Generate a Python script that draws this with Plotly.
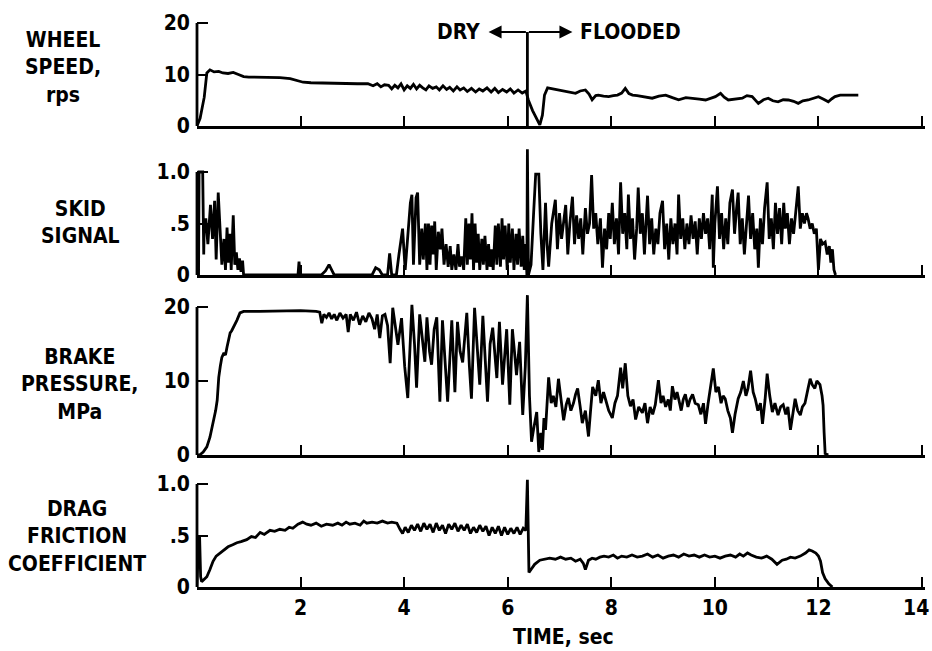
import plotly.graph_objects as go

# ---------------- data ----------------
t_switch = 6.38  # DRY -> FLOODED transition, sec

wheel_t = [
    0.00, 0.06, 0.14, 0.19, 0.25, 0.33, 0.42, 0.50, 0.60, 0.70,
    0.80, 0.90, 1.00, 1.20, 1.40, 1.60, 1.80, 1.95, 2.05, 2.20,
    2.50, 2.80, 3.10, 3.30, 3.40, 3.48, 3.55, 3.62, 3.70, 3.76,
    3.82, 3.88, 3.94, 4.00, 4.06, 4.12, 4.18, 4.24, 4.30, 4.36,
    4.42, 4.48, 4.55, 4.62, 4.68, 4.75, 4.82, 4.88, 4.95, 5.02,
    5.08, 5.15, 5.22, 5.30, 5.38, 5.45, 5.52, 5.60, 5.68, 5.75,
    5.82, 5.90, 5.98, 6.05, 6.12, 6.20, 6.28, 6.35, 6.40, 6.48,
    6.56, 6.62, 6.67, 6.71, 6.77, 6.87, 6.92, 7.02, 7.12, 7.22,
    7.31, 7.40, 7.50, 7.57, 7.63, 7.70, 7.75, 7.85, 7.95, 8.04,
    8.12, 8.20, 8.27, 8.34, 8.41, 8.50, 8.60, 8.70, 8.79, 8.92,
    9.05, 9.18, 9.30, 9.44, 9.57, 9.70, 9.82, 9.92, 10.01, 10.11,
    10.18, 10.26, 10.40, 10.53, 10.62, 10.72, 10.84, 10.94, 11.03, 11.12,
    11.22, 11.32, 11.42, 11.52, 11.61, 11.70, 11.80, 11.90, 12.00, 12.10,
    12.19, 12.26, 12.32, 12.42, 12.52, 12.65, 12.77]
wheel_speed = [
    0.0, 1.5, 5.6, 10.3, 10.9, 10.5, 10.6, 10.3, 10.2, 10.4,
    10.0, 9.6, 9.5, 9.5, 9.4, 9.4, 9.2, 8.8, 8.5, 8.4,
    8.3, 8.3, 8.2, 8.2, 7.8, 8.2, 7.6, 8.0, 7.9, 7.2,
    7.9, 7.4, 8.2, 7.0, 7.8, 7.3, 8.1, 7.2, 7.9, 7.4,
    7.0, 7.8, 7.3, 7.6, 7.0, 7.8, 7.1, 7.5, 6.8, 7.6,
    7.0, 7.4, 6.7, 7.3, 6.6, 7.2, 6.8, 7.4, 6.6, 7.3,
    6.5, 7.1, 6.6, 7.2, 6.4, 7.0, 6.4, 6.8, 5.0, 3.0,
    1.2, 0.2, 2.1, 6.0, 7.4, 7.2, 7.0, 6.8, 6.7, 6.5,
    6.35, 6.8, 7.0, 6.2, 5.1, 5.9, 6.0, 5.8, 5.7, 5.9,
    6.0, 6.4, 7.3, 6.3, 6.0, 5.9, 5.7, 5.6, 5.4, 5.8,
    6.0, 5.5, 5.1, 5.5, 5.4, 5.2, 5.05, 5.4, 5.7, 6.35,
    5.6, 5.05, 5.3, 5.4, 5.9, 5.7, 4.4, 5.1, 5.4, 4.9,
    4.7, 5.1, 5.05, 4.8, 4.4, 4.9, 5.05, 5.4, 5.7, 5.2,
    4.7, 5.3, 5.7, 6.0, 6.0, 6.1, 6.0]

skid_t = [
    0.00, 0.03, 0.04, 0.11, 0.13, 0.14, 0.17, 0.21, 0.26, 0.30,
    0.34, 0.37, 0.41, 0.45, 0.48, 0.52, 0.55, 0.58, 0.61, 0.64,
    0.66, 0.70, 0.73, 0.76, 0.79, 0.82, 0.85, 0.88, 0.90, 1.95,
    1.97, 1.99, 2.40, 2.48, 2.55, 2.60, 2.65, 3.38, 3.45, 3.52,
    3.58, 3.68, 3.72, 3.76, 3.85, 3.90, 3.97, 4.02, 4.08, 4.12,
    4.15, 4.18, 4.23, 4.26, 4.30, 4.34, 4.37, 4.41, 4.44, 4.47,
    4.50, 4.53, 4.56, 4.59, 4.62, 4.66, 4.70, 4.73, 4.77, 4.81,
    4.85, 4.89, 4.92, 4.96, 5.00, 5.04, 5.07, 5.11, 5.15, 5.19,
    5.22, 5.25, 5.28, 5.31, 5.34, 5.37, 5.40, 5.43, 5.46, 5.50,
    5.53, 5.56, 5.60, 5.63, 5.66, 5.69, 5.72, 5.76, 5.79, 5.82,
    5.86, 5.89, 5.92, 5.95, 5.99, 6.02, 6.05, 6.09, 6.12, 6.16,
    6.19, 6.22, 6.26, 6.29, 6.32, 6.35, 6.37, 6.38, 6.40, 6.45,
    6.50, 6.54, 6.60, 6.64, 6.68, 6.73, 6.76, 6.79, 6.85, 6.92,
    6.96, 7.00, 7.04, 7.08, 7.12, 7.16, 7.20, 7.25, 7.29, 7.33,
    7.37, 7.41, 7.45, 7.50, 7.54, 7.58, 7.62, 7.66, 7.70, 7.74,
    7.79, 7.83, 7.87, 7.91, 7.95, 7.98, 8.02, 8.06, 8.10, 8.14,
    8.18, 8.22, 8.26, 8.30, 8.33, 8.37, 8.41, 8.45, 8.49, 8.52,
    8.56, 8.60, 8.64, 8.67, 8.70, 8.74, 8.78, 8.82, 8.86, 8.90,
    8.94, 8.99, 9.03, 9.07, 9.11, 9.15, 9.19, 9.23, 9.27, 9.30,
    9.34, 9.38, 9.42, 9.46, 9.50, 9.54, 9.58, 9.62, 9.66, 9.70,
    9.74, 9.78, 9.82, 9.86, 9.90, 9.95, 9.97, 10.00, 10.05, 10.09,
    10.13, 10.17, 10.21, 10.25, 10.29, 10.34, 10.38, 10.42, 10.45, 10.49,
    10.53, 10.57, 10.61, 10.65, 10.69, 10.73, 10.77, 10.81, 10.84, 10.88,
    10.92, 10.96, 11.01, 11.05, 11.09, 11.13, 11.17, 11.21, 11.25, 11.29,
    11.33, 11.36, 11.40, 11.44, 11.48, 11.52, 11.56, 11.61, 11.65, 11.69,
    11.73, 11.77, 11.80, 11.84, 11.88, 11.92, 11.96, 12.00, 12.04, 12.08,
    12.13, 12.17, 12.21, 12.24, 12.27, 12.30, 12.33]
skid_signal = [
    0.00, 0.00, 1.00, 1.00, 0.20, 0.50, 0.55, 0.30, 0.68, 0.35,
    0.72, 0.15, 0.80, 0.40, 0.10, 0.35, 0.05, 0.46, 0.12, 0.40,
    0.05, 0.58, 0.10, 0.22, 0.05, 0.16, 0.03, 0.14, 0.00, 0.00,
    0.13, 0.00, 0.00, 0.04, 0.10, 0.05, 0.00, 0.00, 0.07, 0.05,
    0.00, 0.00, 0.21, 0.00, 0.00, 0.20, 0.45, 0.05, 0.40, 0.70,
    0.78, 0.10, 0.75, 0.80, 0.10, 0.45, 0.15, 0.50, 0.05, 0.50,
    0.10, 0.48, 0.20, 0.52, 0.05, 0.42, 0.25, 0.45, 0.10, 0.30,
    0.08, 0.28, 0.05, 0.20, 0.05, 0.30, 0.08, 0.18, 0.05, 0.55,
    0.10, 0.50, 0.15, 0.60, 0.05, 0.50, 0.12, 0.40, 0.05, 0.35,
    0.10, 0.38, 0.05, 0.30, 0.08, 0.25, 0.05, 0.48, 0.10, 0.50,
    0.08, 0.55, 0.15, 0.48, 0.05, 0.50, 0.12, 0.45, 0.05, 0.40,
    0.10, 0.45, 0.08, 0.38, 0.05, 0.30, 0.00, 1.22, 0.00, 0.10,
    0.60, 0.98, 0.98, 0.40, 0.05, 0.70, 0.30, 0.08, 0.50, 0.73,
    0.25, 0.60, 0.35, 0.55, 0.68, 0.20, 0.50, 0.76, 0.30, 0.58,
    0.35, 0.55, 0.20, 0.65, 0.40, 0.50, 0.97, 0.45, 0.60, 0.30,
    0.55, 0.07, 0.45, 0.25, 0.60, 0.35, 0.70, 0.30, 0.55, 0.20,
    0.90, 0.40, 0.60, 0.25, 0.78, 0.35, 0.55, 0.15, 0.45, 0.85,
    0.40, 0.60, 0.20, 0.50, 0.77, 0.30, 0.55, 0.20, 0.45, 0.30,
    0.60, 0.72, 0.25, 0.50, 0.15, 0.55, 0.30, 0.50, 0.20, 0.78,
    0.35, 0.55, 0.25, 0.50, 0.30, 0.58, 0.35, 0.52, 0.20, 0.55,
    0.35, 0.60, 0.40, 0.55, 0.25, 0.78, 0.07, 0.50, 0.86, 0.35,
    0.60, 0.25, 0.55, 0.30, 0.70, 0.83, 0.40, 0.65, 0.80, 0.30,
    0.55, 0.20, 0.50, 0.77, 0.35, 0.60, 0.25, 0.45, 0.07, 0.55,
    0.30, 0.65, 0.90, 0.35, 0.55, 0.25, 0.70, 0.40, 0.65, 0.30,
    0.70, 0.45, 0.60, 0.30, 0.55, 0.40, 0.60, 0.86, 0.45, 0.60,
    0.50, 0.60, 0.55, 0.45, 0.50, 0.40, 0.45, 0.05, 0.35, 0.30,
    0.32, 0.20, 0.28, 0.12, 0.25, 0.05, 0.00]

brake_t = [
    0.00, 0.05, 0.12, 0.19, 0.25, 0.31, 0.36, 0.39, 0.42, 0.45,
    0.48, 0.52, 0.55, 0.58, 0.61, 0.64, 0.67, 0.70, 0.74, 0.77,
    0.83, 0.90, 1.20, 1.60, 2.00, 2.30, 2.37, 2.41, 2.45, 2.50,
    2.55, 2.60, 2.65, 2.70, 2.76, 2.82, 2.88, 2.92, 2.96, 3.02,
    3.08, 3.14, 3.20, 3.26, 3.32, 3.38, 3.43, 3.48, 3.53, 3.58,
    3.63, 3.68, 3.73, 3.78, 3.82, 3.88, 3.95, 4.01, 4.07, 4.15,
    4.20, 4.24, 4.30, 4.35, 4.40, 4.44, 4.49, 4.53, 4.58, 4.63,
    4.69, 4.74, 4.79, 4.84, 4.92, 4.98, 5.03, 5.08, 5.13, 5.21,
    5.26, 5.30, 5.36, 5.41, 5.46, 5.52, 5.57, 5.61, 5.66, 5.71,
    5.79, 5.84, 5.90, 5.98, 6.04, 6.09, 6.13, 6.17, 6.23, 6.29,
    6.34, 6.38, 6.42, 6.46, 6.50, 6.56, 6.60, 6.64, 6.67, 6.70,
    6.73, 6.79, 6.84, 6.88, 6.93, 6.98, 7.03, 7.08, 7.13, 7.17,
    7.22, 7.27, 7.31, 7.35, 7.40, 7.44, 7.50, 7.56, 7.60, 7.64,
    7.70, 7.75, 7.80, 7.85, 7.89, 7.95, 8.02, 8.07, 8.12, 8.18,
    8.22, 8.27, 8.32, 8.37, 8.42, 8.47, 8.53, 8.60, 8.65, 8.70,
    8.75, 8.80, 8.85, 8.91, 8.96, 9.00, 9.05, 9.10, 9.14, 9.18,
    9.23, 9.27, 9.30, 9.35, 9.39, 9.43, 9.48, 9.52, 9.57, 9.62,
    9.68, 9.73, 9.78, 9.82, 9.87, 9.91, 9.97, 10.02, 10.07, 10.12,
    10.16, 10.20, 10.25, 10.30, 10.34, 10.39, 10.45, 10.50, 10.55, 10.60,
    10.64, 10.69, 10.74, 10.78, 10.83, 10.88, 10.92, 10.97, 11.01, 11.06,
    11.11, 11.16, 11.22, 11.27, 11.32, 11.37, 11.41, 11.46, 11.51, 11.55,
    11.60, 11.65, 11.69, 11.74, 11.80, 11.84, 11.88, 11.93, 11.97, 12.03,
    12.07, 12.09, 12.11, 12.13, 12.19]
brake_pressure = [
    0.0, 0.0, 0.4, 1.1, 2.4, 4.3, 6.0, 7.4, 10.5, 12.0,
    13.2, 13.8, 13.5, 14.6, 15.6, 16.5, 16.8, 17.2, 17.8, 18.2,
    19.2, 19.4, 19.4, 19.5, 19.5, 19.4, 19.3, 17.8, 19.0, 18.6,
    19.2, 18.4, 19.0, 18.2, 19.2, 18.5, 19.0, 16.6, 19.0, 18.2,
    19.3, 17.6, 18.8, 18.0, 19.2, 18.4, 17.0, 19.0, 15.8, 18.8,
    19.0, 17.5, 12.4, 19.9, 18.0, 14.9, 18.5, 12.0, 7.7, 20.3,
    15.0, 9.1, 19.0, 15.5, 12.6, 18.6, 14.0, 12.2, 17.0, 18.6,
    7.2, 18.2, 12.0, 7.2, 18.2, 8.5, 18.0, 14.0, 12.5, 19.2,
    12.0, 7.6, 19.9, 14.0, 9.5, 18.8, 12.0, 7.2, 15.0, 17.2,
    10.4, 18.0, 9.5, 17.0, 6.8, 17.0, 14.0, 10.8, 15.3, 5.4,
    12.0, 21.6, 8.0, 1.8, 3.5, 5.8, 0.4, 3.0, 0.7, 5.0,
    3.4, 10.5, 7.0, 8.0, 6.5, 10.3, 7.5, 4.7, 6.8, 7.7,
    6.0, 7.0, 8.2, 9.0, 6.5, 4.3, 6.0, 2.5, 6.0, 9.2,
    8.0, 10.1, 7.0, 8.5, 7.5, 6.0, 5.0, 7.0, 8.0, 11.8,
    9.0, 12.4, 8.0, 6.6, 7.5, 4.8, 6.5, 5.7, 7.0, 4.3,
    6.5, 5.5, 6.8, 10.1, 7.0, 8.0, 6.5, 7.5, 6.0, 9.3,
    7.5, 8.5, 7.6, 6.0, 7.5, 8.2, 6.5, 7.5, 8.2, 7.0,
    6.8, 5.5, 7.0, 4.2, 7.0, 9.0, 11.7, 8.5, 9.2, 7.0,
    8.0, 7.6, 6.0, 5.0, 3.0, 5.5, 7.6, 8.5, 10.0, 8.0,
    9.0, 11.4, 8.5, 7.6, 6.0, 7.0, 4.2, 7.5, 11.0, 8.0,
    5.8, 7.0, 5.4, 6.5, 6.8, 5.5, 6.5, 3.4, 6.0, 7.6,
    6.0, 5.4, 6.5, 7.0, 9.0, 10.3, 9.5, 9.0, 10.0, 9.5,
    8.0, 6.7, 3.0, 0.2, 0.0]

drag_t = [
    0.00, 0.03, 0.05, 0.07, 0.09, 0.13, 0.19, 0.25, 0.31, 0.37,
    0.44, 0.52, 0.60, 0.69, 0.77, 0.85, 0.96, 1.05, 1.13, 1.22,
    1.30, 1.41, 1.50, 1.60, 1.70, 1.78, 1.85, 1.95, 2.04, 2.12,
    2.20, 2.30, 2.40, 2.50, 2.62, 2.72, 2.80, 2.88, 2.95, 3.05,
    3.15, 3.22, 3.28, 3.38, 3.48, 3.58, 3.68, 3.76, 3.86, 3.92,
    3.97, 4.02, 4.08, 4.14, 4.20, 4.26, 4.32, 4.38, 4.44, 4.50,
    4.56, 4.62, 4.68, 4.74, 4.80, 4.86, 4.92, 4.98, 5.04, 5.10,
    5.16, 5.22, 5.28, 5.34, 5.40, 5.46, 5.52, 5.58, 5.64, 5.70,
    5.76, 5.82, 5.88, 5.94, 6.00, 6.06, 6.12, 6.18, 6.24, 6.30,
    6.35, 6.38, 6.41, 6.45, 6.52, 6.62, 6.72, 6.81, 6.92, 7.02,
    7.12, 7.22, 7.31, 7.40, 7.46, 7.50, 7.56, 7.63, 7.70, 7.78,
    7.86, 7.95, 8.04, 8.12, 8.20, 8.30, 8.40, 8.50, 8.60, 8.70,
    8.80, 8.90, 9.00, 9.10, 9.20, 9.30, 9.40, 9.50, 9.60, 9.70,
    9.80, 9.90, 10.00, 10.10, 10.20, 10.30, 10.40, 10.48, 10.55, 10.63,
    10.70, 10.80, 10.90, 11.00, 11.10, 11.20, 11.30, 11.38, 11.46, 11.55,
    11.65, 11.75, 11.82, 11.88, 11.95, 12.00, 12.04, 12.08, 12.13, 12.20,
    12.27]
drag_coef = [
    0.00, 0.48, 0.49, 0.10, 0.05, 0.07, 0.10, 0.17, 0.25, 0.30,
    0.33, 0.36, 0.39, 0.41, 0.43, 0.44, 0.46, 0.49, 0.48, 0.53,
    0.51, 0.55, 0.54, 0.56, 0.55, 0.58, 0.57, 0.61, 0.63, 0.61,
    0.60, 0.62, 0.59, 0.61, 0.60, 0.62, 0.60, 0.63, 0.61, 0.62,
    0.60, 0.64, 0.62, 0.63, 0.62, 0.64, 0.62, 0.63, 0.62, 0.56,
    0.52, 0.58, 0.53, 0.60, 0.55, 0.61, 0.54, 0.62, 0.56, 0.61,
    0.53, 0.62, 0.55, 0.60, 0.52, 0.61, 0.56, 0.62, 0.54, 0.60,
    0.55, 0.61, 0.52, 0.58, 0.53, 0.60, 0.54, 0.59, 0.50, 0.58,
    0.52, 0.59, 0.50, 0.58, 0.51, 0.57, 0.52, 0.58, 0.51, 0.57,
    0.55, 1.04, 0.14, 0.17, 0.22, 0.26, 0.27, 0.28, 0.27, 0.29,
    0.27, 0.28, 0.25, 0.27, 0.23, 0.17, 0.26, 0.28, 0.27, 0.29,
    0.30, 0.29, 0.31, 0.28, 0.30, 0.29, 0.31, 0.29, 0.30, 0.32,
    0.29, 0.31, 0.28, 0.30, 0.31, 0.29, 0.32, 0.30, 0.31, 0.29,
    0.31, 0.29, 0.30, 0.28, 0.30, 0.31, 0.29, 0.32, 0.30, 0.33,
    0.31, 0.29, 0.28, 0.30, 0.27, 0.22, 0.26, 0.27, 0.29, 0.28,
    0.30, 0.33, 0.36, 0.35, 0.33, 0.30, 0.25, 0.14, 0.08, 0.03,
    0.00]

x_ticks = [2, 4, 6, 8, 10, 12, 14]
x_ticktext = ["2", "4", "6", "8", "10", "12", ""]   # "14" is placed separately at the edge
last_tick_label = "14"
panel_labels = ["WHEEL<br>SPEED,<br>rps", "SKID<br>SIGNAL",
                "BRAKE<br>PRESSURE,<br>MPa", "DRAG<br>FRICTION<br>COEFFICIENT"]
y_tickvals = [[0, 10, 20], [0, 0.5, 1.0], [0, 10, 20], [0, 0.5, 1.0]]
y_ticktext = [["0", "10", "20"], ["0", ".5", "1.0"], ["0", "10", "20"], ["0", ".5", "1.0"]]

for a, b in [(wheel_t, wheel_speed), (skid_t, skid_signal),
             (brake_t, brake_pressure), (drag_t, drag_coef)]:
    assert len(a) == len(b), (len(a), len(b))

# ---------------- layout geometry (pixels) ----------------
W, H = 932, 651
FONT = "DejaVu Sans Condensed, Liberation Sans Narrow, Arial Narrow, sans-serif"
X_LEFT, X_14 = 197, 922
X_MAX = 14.05
PPX = (X_14 - X_LEFT) / 14.0
X_RIGHT = X_LEFT + X_MAX * PPX
# (bottom px, top-of-scale px, scale top value, range top value)
geom = [(126, 23, 20, 20.4), (275, 172, 1.0, 1.25), (455, 307, 20, 22.5), (587, 484, 1.0, 1.1)]
label_pos = [(63, 68), (80, 222), (80, 384), (77, 536)]

def pyf(p):
    return 1 - p / H

series = [(wheel_t, wheel_speed), (skid_t, skid_signal),
          (brake_t, brake_pressure), (drag_t, drag_coef)]
LW = 2.8
fig = go.Figure()
layout = dict(width=W, height=H, margin=dict(l=0, r=0, t=0, b=0, autoexpand=False),
              autosize=False, paper_bgcolor="white", plot_bgcolor="white", showlegend=False,
              font=dict(family=FONT, size=21, color="black", weight="bold"))
shapes, annotations = [], []
TF = dict(family=FONT, size=21, color="black", weight="bold")

for i, ((tx, vy), (pb, pt, stop, rtop)) in enumerate(zip(series, geom)):
    sfx = "" if i == 0 else str(i + 1)
    ppu = (pb - pt) / stop
    top_px = pb - rtop * ppu
    fig.add_trace(go.Scatter(x=tx, y=vy, mode="lines",
                             line=dict(color="black", width=LW),
                             xaxis="x" + sfx, yaxis="y" + sfx, hoverinfo="skip"))
    layout["xaxis" + sfx] = dict(
        domain=[X_LEFT / W, X_RIGHT / W], range=[0, X_MAX], anchor="y" + sfx,
        automargin=False, showline=True, linewidth=LW, linecolor="black", mirror=False,
        ticks="inside", ticklen=10, tickwidth=2, tickcolor="black",
        tickmode="array", tickvals=x_ticks, ticktext=x_ticktext,
        showticklabels=(i == 3), ticklabeloverflow="allow",
        showgrid=False, zeroline=False, ticklabelstandoff=0, tickfont=TF)
    layout["yaxis" + sfx] = dict(
        domain=[pyf(pb), pyf(top_px)], range=[0, rtop], anchor="x" + sfx,
        automargin=False, showline=False, ticks="inside", ticklen=11, tickwidth=2,
        tickcolor="black", tickmode="array", tickvals=y_tickvals[i],
        ticktext=y_ticktext[i], showgrid=False, zeroline=False,
        ticklabelstandoff=6, tickfont=TF)
    # left axis line only up to the top scale value
    shapes.append(dict(type="line", xref="paper", yref="y" + sfx,
                       x0=X_LEFT / W, x1=X_LEFT / W, y0=0, y1=stop,
                       line=dict(color="black", width=LW)))
    lx, ly = label_pos[i]
    annotations.append(dict(text=panel_labels[i], xref="paper", yref="paper",
                            x=lx / W, y=pyf(ly), showarrow=False, align="center",
                            xanchor="center", yanchor="middle", font=TF))

# last x tick label, kept inside the page at the right edge
annotations.append(dict(text=last_tick_label, xref="paper", yref="paper",
                        x=931 / W, y=pyf(608), showarrow=False, xanchor="right",
                        yanchor="middle", font=TF))

# DRY <-> FLOODED marker on the wheel speed panel
arrow_y = 18.25
shapes.append(dict(type="line", xref="x", yref="y", x0=t_switch, x1=t_switch,
                   y0=0, y1=arrow_y, line=dict(color="black", width=LW)))
for head in (t_switch - 0.75, t_switch + 0.87):
    annotations.append(dict(x=head, y=arrow_y, xref="x", yref="y",
                            ax=t_switch, ay=arrow_y, axref="x", ayref="y", text="",
                            showarrow=True, arrowhead=2, arrowsize=1.3, arrowwidth=2,
                            arrowcolor="black"))
annotations.append(dict(x=t_switch - 0.87, y=arrow_y, xref="x", yref="y", text="DRY",
                        showarrow=False, xanchor="right", yanchor="middle", font=TF))
annotations.append(dict(x=t_switch + 0.98, y=arrow_y, xref="x", yref="y", text="FLOODED",
                        showarrow=False, xanchor="left", yanchor="middle", font=TF))
# x axis title
annotations.append(dict(x=563 / W, y=pyf(637), xref="paper", yref="paper", text="TIME, sec",
                        showarrow=False, xanchor="center", yanchor="middle", font=TF))

layout["shapes"] = shapes
layout["annotations"] = annotations
fig.update_layout(**layout)
fig.write_html("out.html", config={"displayModeBar": False},
               post_script="document.body.style.margin='0';document.body.style.overflow='hidden';")
